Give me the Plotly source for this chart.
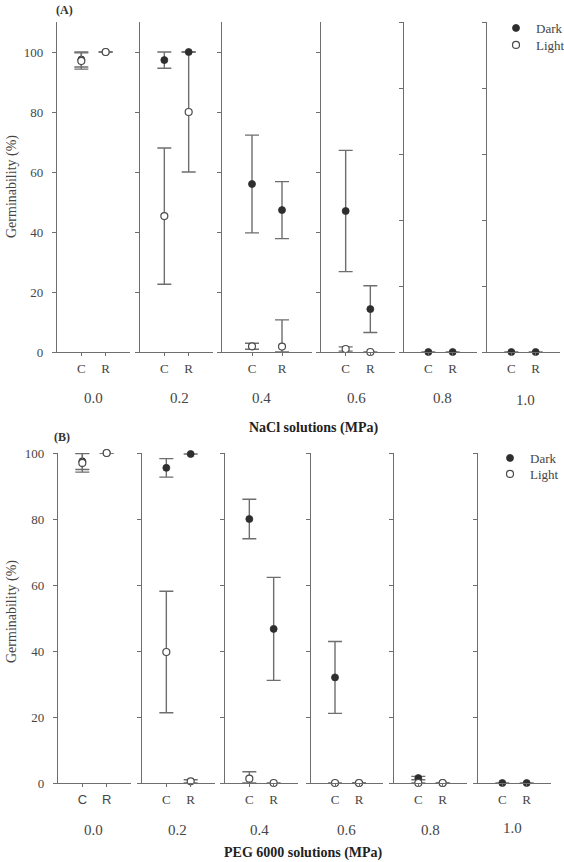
import plotly.graph_objects as go

W, H = 564, 862

levels = ["0.0", "0.2", "0.4", "0.6", "0.8", "1.0"]
cats = ["C", "R"]

# NaCl (A)
nacl_dark = [[97.5, 100], [97.3, 100], [56.0, 47.3], [47.0, 14.3], [0, 0], [0, 0]]
nacl_dark_err = [[2.5, 0], [2.7, 0], [16.3, 9.5], [20.2, 7.8], [0, 0], [0, 0]]
nacl_light = [[97.0, 100], [45.3, 80.0], [1.9, 1.8], [1.0, 0], [None, None], [None, None]]
nacl_light_err_up = [[2.7, 0], [22.7, 20], [1.0, 8.9], [0.7, 0], [0, 0], [0, 0]]
nacl_light_err_dn = [[2.7, 0], [22.7, 20], [1.0, 1.8], [0.7, 0], [0, 0], [0, 0]]

# PEG 6000 (B)
peg_dark = [[97.5, 100], [95.5, 99.7], [80.0, 46.7], [32.0, 0], [1.5, 0], [0, 0]]
peg_dark_err = [[2.5, 0], [2.8, 0], [6.0, 15.6], [10.9, 0], [0.5, 0], [0, 0]]
peg_light = [[97.0, 100], [39.7, 0.5], [1.3, 0], [0, 0], [0, 0], [None, None]]
peg_light_err_up = [[2.8, 0], [18.4, 0.5], [2.1, 0], [0, 0], [0, 0], [0, 0]]
peg_light_err_dn = [[2.8, 0], [18.4, 0.5], [1.3, 0], [0, 0], [0, 0], [0, 0]]

SERIF = "Liberation Serif"
SANS = "Liberation Sans"
AXC = "#6e6e6e"
TXT = "#454545"
DARK = "#2e2e2e"

# geometry (pixels)
xdomA = [(57, 130), (140, 213), (222, 312), (321, 395), (404, 477), (487, 560)]
xdomB = [(58, 131), (142, 215), (225, 298), (311, 383), (394, 467), (478, 551)]
ydomA = (22, 352)
ydomB = (453, 783)


def px(x):
    return x / W


def py(y):
    return 1 - y / H


fig = go.Figure()
layout = {}

panels = [
    ("A", xdomA, ydomA, [0, 110], nacl_dark, nacl_dark_err, nacl_light, nacl_light_err_up, nacl_light_err_dn,
     "legend", "legend2"),
    ("B", xdomB, ydomB, [0, 100], peg_dark, peg_dark_err, peg_light, peg_light_err_up, peg_light_err_dn,
     "legend3", "legend4"),
]

dark_on_top = {("A", 1), ("A", 4), ("A", 5), ("B", 5)}

idx = 0
for name, xdom, ydom, yr, dk, dke, lt, lteu, lted, legd, legl in panels:
    for j in range(6):
        idx += 1
        xa = "x" if idx == 1 else f"x{idx}"
        ya = "y" if idx == 1 else f"y{idx}"
        xkey = "xaxis" if idx == 1 else f"xaxis{idx}"
        ykey = "yaxis" if idx == 1 else f"yaxis{idx}"

        dark_tr = go.Scatter(
            x=[1, 2], y=dk[j], xaxis=xa, yaxis=ya, mode="markers", name="Dark",
            marker=dict(symbol="circle", size=7, color=DARK, line=dict(color=DARK, width=0.8)),
            error_y=dict(type="data", array=dke[j], arrayminus=dke[j], color=AXC, thickness=1.4, width=7),
            cliponaxis=False, showlegend=(j == 0), legend=legd, hoverinfo="skip",
        )
        light_tr = go.Scatter(
            x=[1, 2], y=lt[j], xaxis=xa, yaxis=ya, mode="markers", name="Light",
            marker=dict(symbol="circle", size=7, color="white", line=dict(color="#4a4a4a", width=1.2)),
            error_y=dict(type="data", array=lteu[j], arrayminus=lted[j], color=AXC, thickness=1.4, width=7),
            cliponaxis=False, showlegend=(j == 0), legend=legl, hoverinfo="skip",
        )
        if (name, j) in dark_on_top:
            fig.add_trace(light_tr)
            fig.add_trace(dark_tr)
        else:
            fig.add_trace(dark_tr)
            fig.add_trace(light_tr)

        tf_x = dict(family=SANS if (name == "B" and j == 0) else SERIF, size=13, color=TXT)
        layout[xkey] = dict(
            domain=[px(xdom[j][0]), px(xdom[j][1])], range=[0, 3], anchor=ya,
            tickmode="array", tickvals=[1, 2], ticktext=cats,
            showline=True, linecolor=AXC, linewidth=1.3, ticks="outside", ticklen=3,
            tickcolor=AXC, tickwidth=1.2, showgrid=False, zeroline=False,
            tickfont=tf_x, ticklabelstandoff=1, fixedrange=True, automargin=False,
        )
        if name == "A" and j >= 4:
            tv = [0, 22, 44, 66, 88, 110]
        else:
            tv = [0, 20, 40, 60, 80, 100]
        layout[ykey] = dict(
            domain=[py(ydom[1]), py(ydom[0])], range=yr, anchor=xa,
            tickmode="array", tickvals=tv, ticktext=[str(v) for v in tv],
            showticklabels=(j == 0),
            showline=True, linecolor=AXC, linewidth=1.3, ticks="outside", ticklen=4,
            tickcolor=AXC, tickwidth=1.2, showgrid=False, zeroline=False,
            tickfont=dict(family=SERIF, size=13, color=TXT), ticklabelstandoff=6,
            fixedrange=True, automargin=False,
        )

annotations = []
levelA_x = [93, 179, 261, 356, 442, 525]
levelB_x = [93, 177, 259, 346, 430, 512]
for k, lab in enumerate(levels):
    annotations.append(dict(text=lab, x=px(levelA_x[k]), y=py(398 if k < 5 else 400), xref="paper", yref="paper",
                            xanchor="center", yanchor="middle", showarrow=False,
                            font=dict(family=SERIF, size=15, color=TXT)))
    annotations.append(dict(text=lab, x=px(levelB_x[k]), y=py(830 if k < 5 else 828), xref="paper", yref="paper",
                            xanchor="center", yanchor="middle", showarrow=False,
                            font=dict(family=SERIF, size=15, color=TXT)))

annotations += [
    dict(text="<b>NaCl solutions (MPa)</b>", x=px(313), y=py(428), xref="paper", yref="paper",
         xanchor="center", yanchor="middle", showarrow=False, font=dict(family=SERIF, size=14, color="#222")),
    dict(text="<b>PEG 6000 solutions (MPa)</b>", x=px(303), y=py(853), xref="paper", yref="paper",
         xanchor="center", yanchor="middle", showarrow=False, font=dict(family=SERIF, size=14, color="#222")),
    dict(text="<b>(A)</b>", x=px(64), y=py(10), xref="paper", yref="paper",
         xanchor="center", yanchor="middle", showarrow=False, font=dict(family=SERIF, size=12, color="#333")),
    dict(text="<b>(B)</b>", x=px(62), y=py(437), xref="paper", yref="paper",
         xanchor="center", yanchor="middle", showarrow=False, font=dict(family=SERIF, size=12, color="#333")),
    dict(text="Germinability (%)", x=px(12), y=py(187), xref="paper", yref="paper", textangle=-90,
         xanchor="center", yanchor="middle", showarrow=False, font=dict(family=SERIF, size=14, color=TXT)),
    dict(text="Germinability (%)", x=px(12), y=py(612), xref="paper", yref="paper", textangle=-90,
         xanchor="center", yanchor="middle", showarrow=False, font=dict(family=SERIF, size=14, color=TXT)),
]


def leg(xp, yp):
    return dict(x=px(xp), y=py(yp), xanchor="left", yanchor="top",
                font=dict(family=SERIF, size=13, color=TXT), bgcolor="rgba(0,0,0,0)",
                borderwidth=0, tracegroupgap=0)


layout.update(dict(
    width=W, height=H,
    margin=dict(l=0, r=0, t=0, b=0, autoexpand=False),
    paper_bgcolor="white", plot_bgcolor="white",
    annotations=annotations,
    legend=leg(496, 13),
    legend2=leg(496, 30),
    legend3=leg(490, 443),
    legend4=leg(490, 459),
    hovermode=False,
))

fig.update_layout(layout)
fig.write_html("out.html")
